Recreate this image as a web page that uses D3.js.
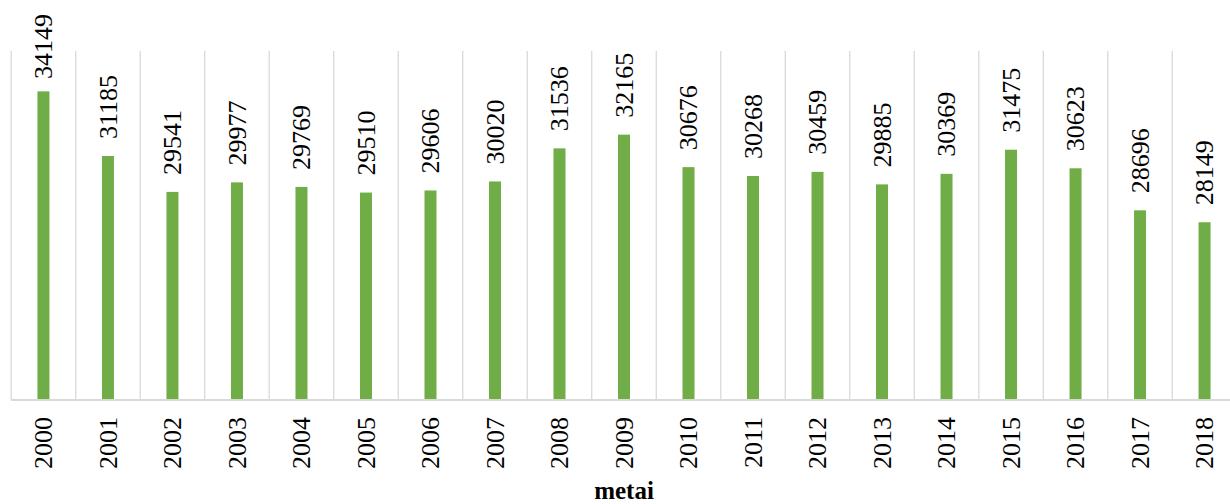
<!DOCTYPE html>
<html>
<head>
<meta charset="utf-8">
<script src="https://cdn.jsdelivr.net/npm/d3@7/dist/d3.min.js"></script>
<style>
  html, body { margin: 0; padding: 0; background: #ffffff; }
  svg { display: block; }
</style>
</head>
<body>
<svg id="chart" width="1230" height="504"></svg>
<script>
// Yearly values
const years = ["2000","2001","2002","2003","2004","2005","2006","2007","2008","2009",
               "2010","2011","2012","2013","2014","2015","2016","2017","2018"];
const values = [34149, 31185, 29541, 29977, 29769, 29510, 29606, 30020, 31536, 32165,
                30676, 30268, 30459, 29885, 30369, 31475, 30623, 28696, 28149];
const yDomain = [20000, 36000];
const axisTitle = "metai";

const serif = '"Liberation Serif"';

const svg = d3.select("#chart");
const plot = { left: 11.2, right: 1236.8, top: 51, bottom: 400 };

const x = d3.scaleBand()
  .domain(years)
  .range([plot.left, plot.right])
  .paddingInner(0.814)
  .paddingOuter(0.407);

const y = d3.scaleLinear()
  .domain(yDomain)
  .range([plot.bottom, plot.top]);

const step = x.step();

// Vertical gridlines at category boundaries
const boundaries = d3.range(years.length + 1).map(i => plot.left + i * step);
svg.append("g")
  .selectAll("line")
  .data(boundaries)
  .join("line")
  .attr("x1", d => d).attr("x2", d => d)
  .attr("y1", plot.top).attr("y2", plot.bottom)
  .attr("stroke", "#d9d9d9")
  .attr("stroke-width", 1.3);

// Bars
const data = years.map((yr, i) => ({ year: yr, value: values[i] }));
svg.append("g")
  .selectAll("rect")
  .data(data)
  .join("rect")
  .attr("x", d => x(d.year))
  .attr("width", x.bandwidth())
  .attr("y", d => y(d.value))
  .attr("height", d => y(yDomain[0]) - y(d.value))
  .attr("fill", "#70ad47");

// Category axis line
svg.append("line")
  .attr("x1", plot.left).attr("x2", plot.right)
  .attr("y1", plot.bottom).attr("y2", plot.bottom)
  .attr("stroke", "#d9d9d9")
  .attr("stroke-width", 1.8);

// Category tick labels (rotated)
const xAxis = d3.axisBottom(x).tickSize(0).tickPadding(0);
const gx = svg.append("g").attr("transform", `translate(0,${plot.bottom})`).call(xAxis);
gx.attr("font-family", null).style("font-family", serif);
gx.select(".domain").remove();
gx.selectAll(".tick text")
  .style("font-family", serif)
  .style("font-size", "26px")
  .attr("fill", "#000")
  .attr("text-anchor", "end")
  .attr("transform", "rotate(-90)")
  .attr("x", -17)
  .attr("y", 0)
  .attr("dy", "0.33em");

// Value labels above bars (rotated), kept inside the top margin
const labels = svg.append("g")
  .selectAll("text")
  .data(data)
  .join("text")
  .style("font-family", serif)
  .style("font-size", "26px")
  .attr("fill", "#000")
  .attr("text-anchor", "start")
  .attr("dy", "0.33em")
  .text(d => d.value);

labels.attr("transform", function(d) {
  const len = this.getComputedTextLength();
  const cx = x(d.year) + x.bandwidth() / 2;
  const baseY = Math.max(y(d.value) - 17, 14 + len);
  return `translate(${cx},${baseY}) rotate(-90)`;
});

// Axis title
svg.append("text")
  .attr("x", (plot.left + plot.right) / 2)
  .attr("y", 499)
  .attr("text-anchor", "middle")
  .attr("fill", "#000")
  .style("font-family", serif)
  .style("font-size", "25px")
  .style("font-weight", "bold")
  .text(axisTitle);
</script>
</body>
</html>
